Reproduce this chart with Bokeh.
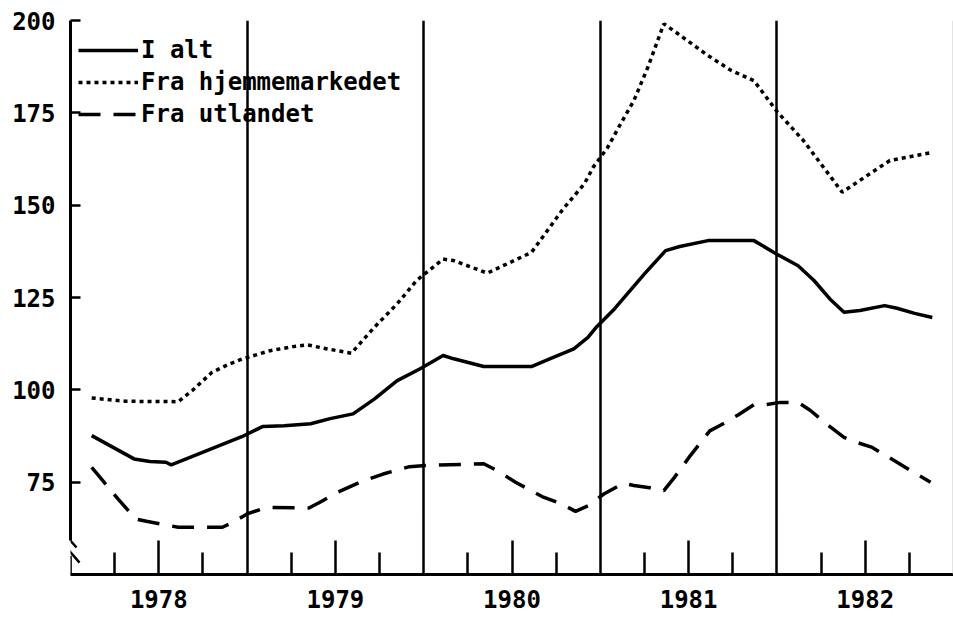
from bokeh.plotting import figure
from bokeh.models import (Range1d, FixedTicker, Legend, LegendItem, Span, Arrow)
from bokeh.embed import file_html
from bokeh.resources import INLINE

# ---- data ----
i_alt_x = [1978.12, 1978.36, 1978.45, 1978.54, 1978.57, 1978.62, 1978.97, 1979.09, 1979.21, 1979.36,
           1979.47, 1979.60, 1979.72, 1979.85, 1979.98, 1980.11, 1980.17, 1980.34, 1980.61, 1980.70,
           1980.85, 1980.93, 1980.98, 1981.08, 1981.25, 1981.37, 1981.45, 1981.61, 1981.87, 1981.99,
           1982.12, 1982.21, 1982.30, 1982.38, 1982.47, 1982.61, 1982.68, 1982.78, 1982.88]
i_alt = [87.6, 81.3, 80.6, 80.4, 79.7, 80.6, 87.3, 90.1, 90.3, 90.8,
         92.2, 93.5, 97.5, 102.5, 105.7, 109.3, 108.4, 106.3, 106.3, 108.1,
         111.1, 114.2, 117.1, 121.9, 131.4, 137.7, 138.8, 140.4, 140.4, 137.0,
         133.6, 129.6, 124.6, 121.0, 121.5, 122.8, 122.1, 120.7, 119.6]

hjemme_x = [1978.12, 1978.31, 1978.61, 1978.69, 1978.80, 1978.90, 1978.97, 1979.13, 1979.26, 1979.34,
            1979.43, 1979.59, 1979.72, 1979.85, 1979.96, 1980.11, 1980.17, 1980.27, 1980.36, 1980.44,
            1980.61, 1980.70, 1980.79, 1980.91, 1980.96, 1981.04, 1981.11, 1981.19, 1981.27, 1981.36,
            1981.44, 1981.61, 1981.74, 1981.87, 1982.00, 1982.15, 1982.37, 1982.51, 1982.64, 1982.76,
            1982.88]
hjemme = [97.8, 96.9, 96.8, 99.8, 104.7, 107.0, 108.3, 110.6, 111.7, 112.2,
          111.3, 109.9, 116.9, 123.3, 129.6, 135.4, 135.0, 133.2, 131.6, 133.4,
          137.2, 143.1, 149.0, 155.8, 160.3, 165.5, 171.6, 178.3, 187.4, 199.1,
          196.4, 190.5, 186.5, 183.7, 175.4, 167.5, 153.5, 158.0, 162.1, 163.2,
          164.3]

utland_x = [1978.12, 1978.19, 1978.27, 1978.37, 1978.43, 1978.53, 1978.61, 1978.86, 1978.92, 1979.00,
            1979.11, 1979.35, 1979.41, 1979.51, 1979.66, 1979.77, 1979.92, 1980.01, 1980.34, 1980.42,
            1980.52, 1980.67, 1980.78, 1980.86, 1980.93, 1981.02, 1981.13, 1981.19, 1981.28, 1981.36,
            1981.42, 1981.51, 1981.62, 1981.68, 1981.78, 1981.87, 1981.94, 1982.02, 1982.12, 1982.19,
            1982.29, 1982.38, 1982.45, 1982.54, 1982.68, 1982.79, 1982.87]
utland = [79.0, 75.0, 70.4, 65.0, 64.4, 63.5, 62.8, 62.8, 64.1, 66.4,
          68.2, 68.0, 69.5, 72.2, 75.4, 77.2, 79.2, 79.5, 80.0, 78.0,
          75.0, 71.1, 69.1, 67.1, 68.6, 71.8, 74.7, 74.1, 73.5, 72.7,
          76.3, 82.2, 88.9, 90.4, 93.2, 96.0, 96.0, 96.6, 96.6, 94.4,
          90.4, 87.1, 85.8, 84.4, 80.4, 77.2, 75.0]

years = [1978, 1979, 1980, 1981, 1982]
year_labels = ["1978", "1979", "1980", "1981", "1982"]
y_ticks = [75, 100, 125, 150, 175, 200]
series_names = ["I alt", "Fra hjemmemarkedet", "Fra utlandet"]

FONT = "DejaVu Sans Mono"
FS = "24px"

p = figure(width=953, height=620, output_backend="svg", toolbar_location=None,
           x_range=Range1d(years[0], years[-1] + 1), y_range=Range1d(50, 200),
           min_border_left=70, min_border_right=0, min_border_top=20, min_border_bottom=46)
p.outline_line_color = None
p.background_fill_color = "white"
p.border_fill_color = "white"

# year separator lines
p.xgrid.ticker = FixedTicker(ticks=years[1:])
p.xgrid.grid_line_color = "black"
p.xgrid.grid_line_width = 2.5
p.ygrid.visible = False

# x axis
xa = p.xaxis[0]
xa.ticker = FixedTicker(ticks=[y + 0.5 for y in years],
                        minor_ticks=[y + q for y in years for q in (0.25, 0.75)])
xa.major_label_overrides = {y + 0.5: lab for y, lab in zip(years, year_labels)}
xa.axis_line_width = 3
xa.major_tick_in = 34
xa.major_tick_out = 0
xa.minor_tick_in = 22
xa.minor_tick_out = 0
xa.major_tick_line_width = 2.5
xa.minor_tick_line_width = 2.5
xa.major_label_text_font = FONT
xa.major_label_text_font_size = FS
xa.major_label_text_font_style = "bold"
xa.major_label_text_color = "black"
xa.major_label_standoff = 15

# y axis (with a break near the bottom)
ya = p.yaxis[0]
ya.ticker = FixedTicker(ticks=y_ticks)
ya.bounds = (59.2, 200)
ya.axis_line_width = 3
ya.major_tick_in = 10
ya.major_tick_out = 0
ya.minor_tick_line_color = None
ya.major_tick_line_width = 2.5
ya.major_label_text_font = FONT
ya.major_label_text_font_size = FS
ya.major_label_text_font_style = "bold"
ya.major_label_text_color = "black"
ya.major_label_standoff = 15

# lower stub of the y axis below the break + the two break marks
p.add_layout(Arrow(end=None, x_start=1977.9992, y_start=50, x_end=1977.9992, y_end=55.1,
                   line_width=3, line_color="black"))
p.add_layout(Arrow(end=None, x_start=1977.960, y_start=61.3, x_end=1978.034, y_end=57.3,
                   line_width=2.5, line_color="black"))
p.add_layout(Arrow(end=None, x_start=1977.977, y_start=57.3, x_end=1978.051, y_end=53.2,
                   line_width=2.5, line_color="black"))

# faint right frame edge (scan border)
p.add_layout(Span(location=1982.998, dimension="height", line_color="#b0b0b0", line_width=1))

r1 = p.line(i_alt_x, i_alt, line_width=3.5, color="black", line_join="round")
r2 = p.line(hjemme_x, hjemme, line_width=3.5, color="black", line_dash="4 4")
r3 = p.line(utland_x, utland, line_width=3.5, color="black", line_dash="22 13")

legend = Legend(items=[LegendItem(label=series_names[0], renderers=[r1]),
                       LegendItem(label=series_names[1], renderers=[r2]),
                       LegendItem(label=series_names[2], renderers=[r3])],
                location=(8, 444), orientation="vertical")
legend.glyph_width = 60
legend.glyph_height = 32
legend.label_height = 32
legend.spacing = 0
legend.padding = 0
legend.margin = 0
legend.label_standoff = 3
legend.border_line_color = None
legend.background_fill_alpha = 0
legend.label_text_font = FONT
legend.label_text_font_size = FS
legend.label_text_font_style = "bold"
legend.label_text_color = "black"
p.add_layout(legend)

open("out.html", "w").write(file_html(p, INLINE))
